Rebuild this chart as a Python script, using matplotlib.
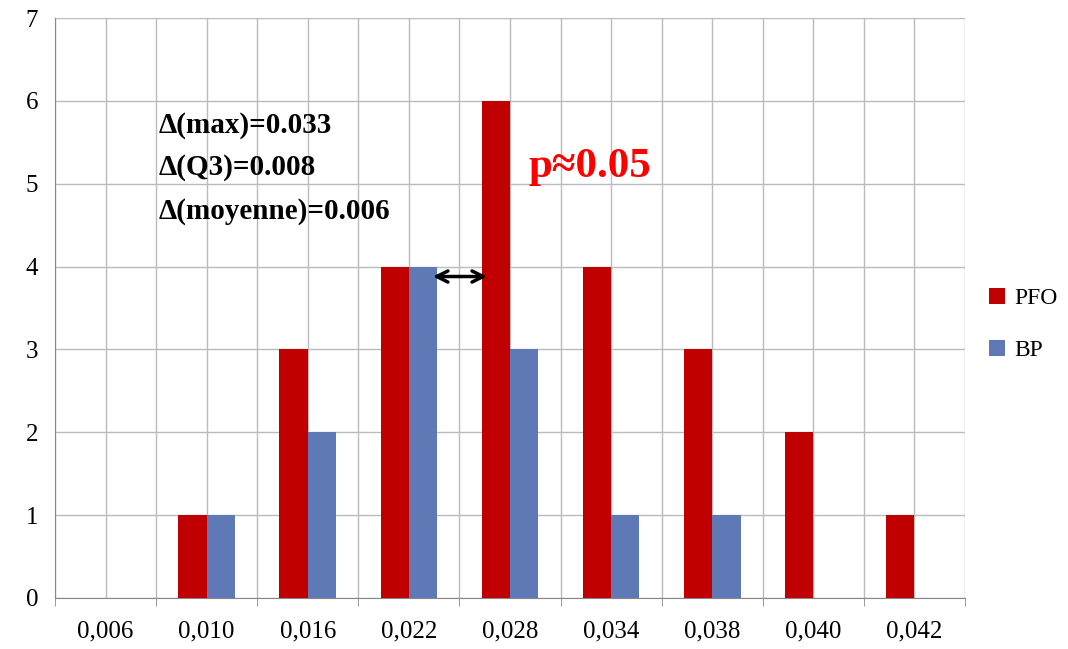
import numpy as np
import matplotlib
matplotlib.use("Agg")
from matplotlib import pyplot as plt

categories = ["0,006", "0,010", "0,016", "0,022", "0,028", "0,034", "0,038", "0,040", "0,042"]
pfo = [0, 1, 3, 4, 6, 4, 3, 2, 1]
bp = [0, 1, 2, 4, 3, 1, 1, 0, 0]

plt.rcParams['font.family'] = ['Liberation Serif', 'DejaVu Serif']

fig = plt.figure(figsize=(10.68, 6.49), dpi=100)
ax = fig.add_axes([55/1068, 51/649, 910/1068, 580/649])

x = np.arange(len(categories))
w = 0.28
ax.bar(x - w/2, pfo, w, color='#C00000', label='PFO', zorder=3)
ax.bar(x + w/2, bp, w, color='#5F78B6', label='BP', zorder=3)

ax.set_xlim(-0.5, len(categories) - 0.5)
ax.set_ylim(0, 7)
ax.set_yticks(range(8))
ax.set_xticks(x)
ax.set_xticklabels(categories)
ax.set_xticks(np.arange(-0.5, len(categories)), minor=True)
ax.tick_params(axis='both', labelsize=18, length=0)
ax.tick_params(axis='x', which='minor', length=6, color='#888888')
ax.tick_params(axis='x', pad=16)
ax.tick_params(axis='y', pad=12)
ax.grid(True, which='both', color='#BBBBBB', linewidth=1, zorder=0)
for s in ['top', 'right']:
    ax.spines[s].set_visible(False)
for s in ['left', 'bottom']:
    ax.spines[s].set_color('#888888')

ax.text(0.52, 5.7, "Δ(max)=0.033", fontsize=21, fontweight='bold', va='center')
ax.text(0.52, 5.19, "Δ(Q3)=0.008", fontsize=21, fontweight='bold', va='center')
ax.text(0.52, 4.66, "Δ(moyenne)=0.006", fontsize=21, fontweight='bold', va='center')
ax.text(4.18, 5.2, "p≈0.05", fontsize=31, fontweight='bold', color='red', va='center')
ax.annotate("", xy=(3.21, 3.88), xytext=(3.8, 3.88),
            arrowprops=dict(arrowstyle='<->', lw=2.5, color='black', mutation_scale=20))

fig.legend(loc='center left', bbox_to_anchor=(972/1068, 0.5), frameon=False,
           fontsize=17, handlelength=0.7, handleheight=0.7, labelspacing=1.3,
           handletextpad=0.4, borderpad=0.2)

fig.savefig("out.png", dpi=100)
